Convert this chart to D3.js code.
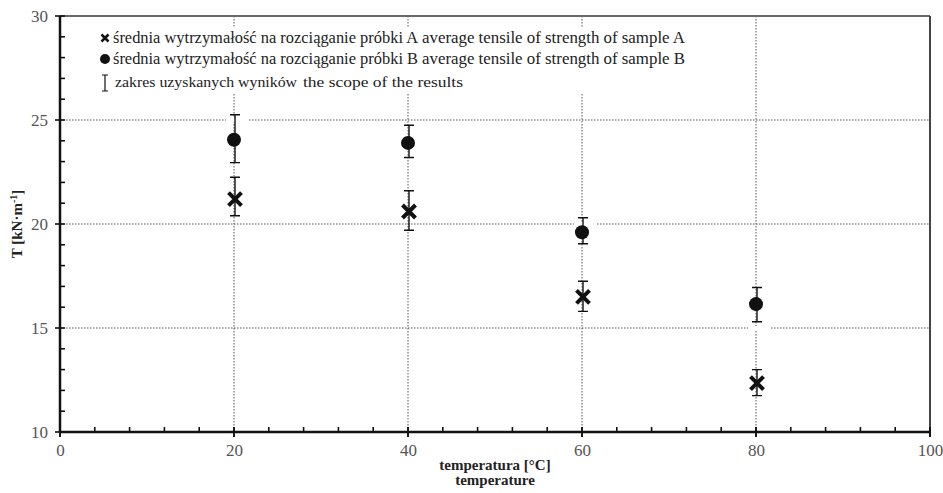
<!DOCTYPE html>
<html>
<head>
<meta charset="utf-8">
<script src="https://cdn.jsdelivr.net/npm/d3@7"></script>
<style>
  html, body { margin: 0; padding: 0; background: #fff; }
  svg { display: block; }
  svg text { font-family: 'Liberation Serif', 'Times New Roman', Times, 'DejaVu Serif', serif; }
</style>
</head>
<body>
<svg id="chart" width="943" height="493"></svg>
<script>
// ---- data ----
const temperatures = [20, 40, 60, 80];
const meanA = [21.2, 20.6, 16.5, 12.35];
const lowA  = [20.4, 19.7, 15.8, 11.75];
const highA = [22.25, 21.6, 17.25, 13.0];
const meanB = [24.05, 23.9, 19.6, 16.15];
const lowB  = [22.95, 23.2, 19.05, 15.3];
const highB = [25.25, 24.75, 20.3, 16.95];
const xTicks = [0, 20, 40, 60, 80, 100];
const yTicks = [10, 15, 20, 25, 30];
const legendPL = ["średnia wytrzymałość na rozciąganie próbki A", "średnia wytrzymałość na rozciąganie próbki B", "zakres uzyskanych wyników"];
const legendEN = ["average tensile of strength of sample A", "average tensile of strength of sample B", "the scope of the results"];
const xTitle = ["temperatura [°C]", "temperature"];
// gaps in gridlines behind label boxes (temperature, gridline value)
const gridGaps = [[20, 25], [60, 20], [80, 15]];

const FONT = "'Liberation Serif', 'Times New Roman', Times, serif";

// ---- layout ----
const svg = d3.select("#chart");
const x = d3.scaleLinear().domain([0, 100]).range([60, 930]);
const y = d3.scaleLinear().domain([10, 30]).range([432, 16]);

// gridlines
const grid = svg.append("g").attr("stroke", "#555").attr("stroke-width", 1).attr("stroke-dasharray", "1.5,1.5");
grid.selectAll(".gx").data(xTicks.filter(d => d > 0 && d < 100)).join("line")
  .attr("x1", d => x(d)).attr("x2", d => x(d)).attr("y1", y(30)).attr("y2", y(10));
grid.selectAll(".gy").data(yTicks.filter(d => d > 10 && d < 30)).join("line")
  .attr("x1", x(0)).attr("x2", x(100)).attr("y1", d => y(d)).attr("y2", d => y(d));

// gridline gaps
svg.append("g").selectAll("rect").data(gridGaps).join("rect")
  .attr("x", d => x(d[0]) - 8).attr("y", d => y(d[1]) - 2)
  .attr("width", 22).attr("height", 4).attr("fill", "#fff");

// frame (top / right)
svg.append("line").attr("x1", x(0)).attr("x2", x(100)).attr("y1", y(30)).attr("y2", y(30))
  .attr("stroke", "#6a6a6a").attr("stroke-width", 2);
svg.append("line").attr("x1", x(100)).attr("x2", x(100)).attr("y1", y(30)).attr("y2", y(10))
  .attr("stroke", "#444").attr("stroke-width", 2);

// axes with labels
const yAxis = svg.append("g").attr("transform", `translate(${x(0)},0)`)
  .call(d3.axisLeft(y).tickValues(yTicks).tickSize(0).tickPadding(12).tickFormat(d3.format("d")));
const xAxis = svg.append("g").attr("transform", `translate(0,${y(10)})`)
  .call(d3.axisBottom(x).tickValues(xTicks).tickSize(0).tickPadding(12).tickFormat(d3.format("d")));
[yAxis, xAxis].forEach(a => {
  a.attr("font-family", FONT);
  a.select(".domain").remove();
  a.selectAll("text").attr("font-family", FONT).attr("font-size", 17).attr("fill", "#555");
});

// minor & major ticks
const tk = svg.append("g").attr("stroke", "#111").attr("stroke-width", 1.6);
tk.selectAll(".ym").data(d3.range(10, 31, 1)).join("line")
  .attr("x1", d => d % 5 === 0 ? x(0) - 5 : x(0)).attr("x2", x(0) + 5)
  .attr("y1", d => y(d)).attr("y2", d => y(d));
tk.selectAll(".xm").data(d3.range(0, 101, 4).concat(xTicks)).join("line")
  .attr("x1", d => x(d)).attr("x2", d => x(d))
  .attr("y1", d => d % 20 === 0 ? y(10) + 5 : y(10)).attr("y2", y(10) - 5);

// axis lines
svg.append("line").attr("x1", x(0)).attr("x2", x(0)).attr("y1", y(30)).attr("y2", y(10))
  .attr("stroke", "#111").attr("stroke-width", 2.5);
svg.append("line").attr("x1", x(0)).attr("x2", x(100)).attr("y1", y(10)).attr("y2", y(10))
  .attr("stroke", "#111").attr("stroke-width", 2.5);

// legend
const lg = svg.append("g");
lg.append("rect").attr("x", 97).attr("y", 27).attr("width", 600).attr("height", 66).attr("fill", "#fff");
const crossPath = s => `M${-s},${-s}L${s},${s}M${-s},${s}L${s},${-s}`;
lg.append("path").attr("d", crossPath(3.5)).attr("transform", "translate(105,38)")
  .attr("stroke", "#111").attr("stroke-width", 2.5).attr("fill", "none");
lg.append("circle").attr("cx", 105).attr("cy", 59).attr("r", 5).attr("fill", "#111");
lg.append("path").attr("d", "M102,75H108M105,75V91M102,91H108").attr("stroke", "#111").attr("stroke-width", 1.2).attr("fill", "none");

const rowY = [43, 64, 87];
const plX = [113, 113, 115], plW = [305, 305, 182];
const enX = [422, 422, 303], enW = [263, 263, 160];
const rowFs = [16, 16, 14];
legendPL.forEach((t, i) => {
  lg.append("text").attr("x", plX[i]).attr("y", rowY[i]).attr("font-family", FONT).attr("font-size", rowFs[i]).attr("fill", "#222")
    .attr("textLength", plW[i]).attr("lengthAdjust", "spacingAndGlyphs").text(t);
  lg.append("text").attr("x", enX[i]).attr("y", rowY[i]).attr("font-family", FONT).attr("font-size", rowFs[i]).attr("fill", "#222")
    .attr("textLength", enW[i]).attr("lengthAdjust", "spacingAndGlyphs").text(legendEN[i]);
});

// data
const dataA = temperatures.map((t, i) => ({t, m: meanA[i], lo: lowA[i], hi: highA[i]}));
const dataB = temperatures.map((t, i) => ({t, m: meanB[i], lo: lowB[i], hi: highB[i]}));

function errorBars(data) {
  const g = svg.append("g").attr("stroke", "#111").attr("stroke-width", 1.4).attr("fill", "none");
  g.selectAll("path").data(data).join("path")
    .attr("d", d => {
      const cx = x(d.t) + 1;
      return `M${cx - 5},${y(d.hi)}H${cx + 5}M${cx},${y(d.hi)}V${y(d.lo)}M${cx - 5},${y(d.lo)}H${cx + 5}`;
    });
}
errorBars(dataB);
errorBars(dataA);

svg.append("g").selectAll("circle").data(dataB).join("circle")
  .attr("cx", d => x(d.t)).attr("cy", d => y(d.m)).attr("r", 7).attr("fill", "#111");
svg.append("g").selectAll("path").data(dataA).join("path")
  .attr("d", crossPath(6.5)).attr("transform", d => `translate(${x(d.t) + 1},${y(d.m)})`)
  .attr("stroke", "#111").attr("stroke-width", 4).attr("fill", "none");

// axis titles
const yt = svg.append("text").attr("transform", `translate(22,${y(20)}) rotate(-90)`)
  .attr("font-family", FONT)
  .attr("text-anchor", "middle").attr("font-weight", "bold").attr("font-size", 15).attr("fill", "#222");
yt.append("tspan").text("T [kN·m");
yt.append("tspan").attr("dy", -5).attr("font-size", 10).text("-1");
yt.append("tspan").attr("dy", 5).text("]");

svg.append("g").selectAll("text").data(xTitle).join("text")
  .attr("x", (x(0) + x(100)) / 2).attr("y", (d, i) => 470 + i * 15)
  .attr("font-family", FONT)
  .attr("text-anchor", "middle").attr("font-weight", "bold").attr("font-size", 15).attr("fill", "#222")
  .text(d => d);
</script>
</body>
</html>
